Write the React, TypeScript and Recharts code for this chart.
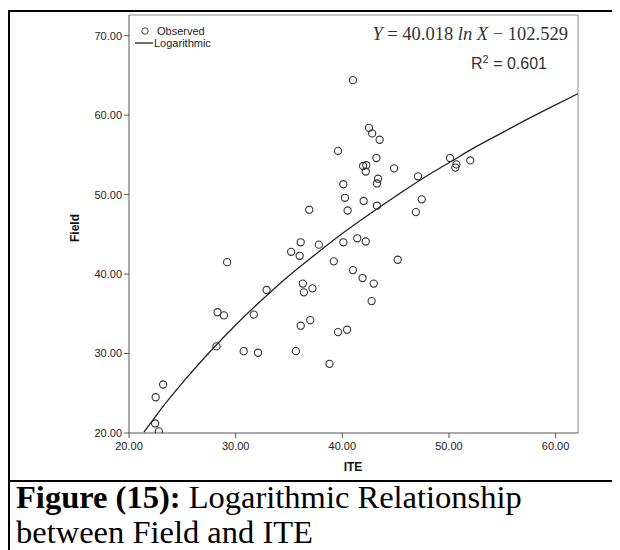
import React from "react";
import { ComposedChart, Scatter, Line, XAxis, YAxis, ReferenceLine } from "recharts";

// observed cases
const iteValues = [
    22.5, 22.45, 22.8, 23.2, 28.2, 28.3, 28.9, 29.2, 30.75, 31.7,
    32.1, 32.9, 35.2, 35.65, 36.0, 36.1, 36.1, 36.3, 36.4, 36.9,
    37.0, 37.2, 37.8, 38.8, 39.2, 39.6, 39.6, 40.1, 40.1, 40.25,
    40.45, 40.5, 41.0, 41.0, 41.4, 41.9, 41.95, 42.0, 42.2, 42.2,
    42.25, 42.5, 42.8, 42.75, 42.95, 43.2, 43.25, 43.25, 43.35, 43.5,
    44.85, 45.2, 46.9, 47.1, 47.45, 50.1, 50.6, 50.7, 52.0,
];
const fieldValues = [
    24.5, 21.2, 20.2, 26.1, 30.9, 35.2, 34.8, 41.5, 30.3, 34.9,
    30.1, 38.0, 42.8, 30.3, 42.3, 44.0, 33.5, 38.8, 37.7, 48.1,
    34.2, 38.2, 43.7, 28.7, 41.6, 55.5, 32.7, 51.3, 44.0, 49.6,
    33.0, 48.0, 64.4, 40.5, 44.5, 39.5, 53.6, 49.2, 52.9, 44.1,
    53.7, 58.4, 57.7, 36.6, 38.8, 54.6, 51.4, 48.6, 52.0, 56.9,
    53.3, 41.8, 47.8, 52.3, 49.4, 54.6, 53.4, 53.8, 54.3,
];

// logarithmic fit line
const fitIte = [21.4, 22, 23, 25, 27.5, 30, 32.5, 35, 37.5, 40, 42.5, 45, 47.5, 50, 52.5, 55, 57.5, 60, 62.1];
const fitField = [20.1, 21.2, 23.0, 26.3, 30.1, 33.6, 36.8, 39.8, 42.5, 45.1, 47.5, 49.8, 52.0, 54.0, 56.0, 57.8, 59.6, 61.3, 62.7];

const xTicks = [20, 30, 40, 50, 60];
const yTicks = [20, 30, 40, 50, 60, 70];

const observed = iteValues.map((x, i) => ({ x, y: fieldValues[i] }));
const fitCurve = fitIte.map((x, i) => ({ x, y: fitField[i] }));

const sans = '"Liberation Sans", Arial, sans-serif';
const serif = '"Liberation Serif", "Times New Roman", serif';

const OpenCircle = (props: any) => (
    <circle cx={props.cx} cy={props.cy} r={3.6} fill="none" stroke="#333" strokeWidth={1.1} />
);

export default function App() {
    return (
        <div style={{ position: "relative", width: 612, height: 542, overflow: "hidden" }}>
            {/* figure frame */}
            <div style={{ position: "absolute", left: 0, top: 2, width: 612, height: 2, background: "#000" }} />
            <div style={{ position: "absolute", left: 0, top: 2, width: 2, height: 540, background: "#000" }} />
            <div style={{ position: "absolute", left: 0, top: 472, width: 612, height: 2, background: "#000" }} />

            <div style={{ position: "absolute", left: 0, top: 0 }}>
                <ComposedChart width={600} height={470} margin={{ top: 7, right: 30, left: 0, bottom: 0 }}>
                    <XAxis
                        type="number"
                        dataKey="x"
                        domain={[20, 62.1]}
                        ticks={xTicks}
                        allowDataOverflow
                        height={45}
                        tickSize={5}
                        tickMargin={4}
                        tickFormatter={(v: number) => v.toFixed(2)}
                        tick={{ fontSize: 11, fill: "#222", fontFamily: sans }}
                        axisLine={{ stroke: "#555" }}
                        tickLine={{ stroke: "#555" }}
                        label={{
                            content: () => (
                                <text x={345} y={459} textAnchor="middle" dominantBaseline="central"
                                    fontSize={12} fontWeight="bold" fontFamily={sans} fill="#111">ITE</text>
                            ),
                        }}
                    />
                    <YAxis
                        type="number"
                        dataKey="y"
                        domain={[20, 72.6]}
                        ticks={yTicks}
                        allowDataOverflow
                        width={121}
                        tickSize={5}
                        tickMargin={2}
                        tickFormatter={(v: number) => v.toFixed(2)}
                        tick={{ fontSize: 11, fill: "#222", fontFamily: sans }}
                        axisLine={{ stroke: "#555" }}
                        tickLine={{ stroke: "#555" }}
                        label={{
                            content: () => (
                                <text x={67} y={220} transform="rotate(-90 67 220)" textAnchor="middle"
                                    dominantBaseline="central" fontSize={12} fontWeight="bold"
                                    fontFamily={sans} fill="#111">Field</text>
                            ),
                        }}
                    />
                    <ReferenceLine y={72.6} stroke="#8c8c8c" ifOverflow="visible" />
                    <ReferenceLine x={62.1} stroke="#8c8c8c" ifOverflow="visible" />
                    <Scatter data={observed} dataKey="y" shape={OpenCircle} isAnimationActive={false} />
                    <Line
                        data={fitCurve}
                        dataKey="y"
                        type="monotone"
                        dot={false}
                        activeDot={false}
                        stroke="#222"
                        strokeWidth={1.3}
                        isAnimationActive={false}
                    />
                </ComposedChart>
            </div>

            {/* legend */}
            <svg style={{ position: "absolute", left: 126, top: 17 }} width={22} height={24}>
                <circle cx={11} cy={6} r={3.2} fill="none" stroke="#444" strokeWidth={1} />
                <line x1={1} y1={18} x2={19} y2={18} stroke="#222" strokeWidth={1.3} />
            </svg>
            <div style={{ position: "absolute", left: 149, top: 16, lineHeight: "14px", fontSize: 11, fontFamily: sans, color: "#222" }}>Observed</div>
            <div style={{ position: "absolute", left: 146, top: 28, lineHeight: "14px", fontSize: 11, fontFamily: sans, color: "#222" }}>Logarithmic</div>

            {/* fit equation */}
            <div style={{ position: "absolute", right: 612 - 560, top: 14, lineHeight: "24px", fontSize: 18.5, fontFamily: serif, color: "#333", whiteSpace: "nowrap" }}>
                <i>Y</i> = 40.018 <i>ln X</i> − 102.529
            </div>
            <div style={{ position: "absolute", right: 612 - 539, top: 45, lineHeight: "22px", fontSize: 16, fontFamily: sans, color: "#333", whiteSpace: "nowrap" }}>
                R<sup style={{ fontSize: 11, lineHeight: 0 }}>2</sup> = 0.601
            </div>

            {/* caption */}
            <div style={{ position: "absolute", left: 8, top: 472, width: 604, lineHeight: "35px", fontSize: 32.5, fontFamily: serif, color: "#000", whiteSpace: "nowrap" }}>
                <b>Figure (15):</b> Logarithmic Relationship
                <br />
                between Field and ITE
            </div>
        </div>
    );
}
